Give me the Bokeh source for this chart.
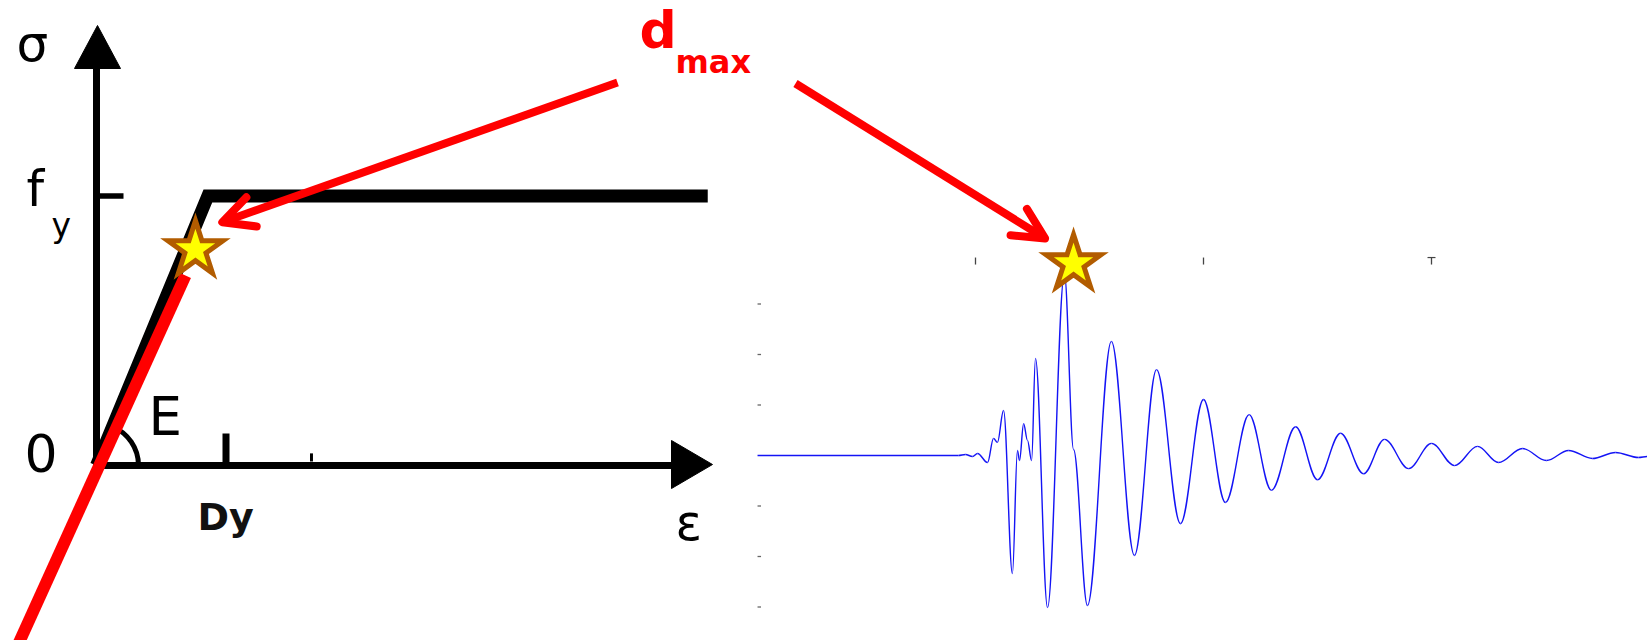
from bokeh.plotting import figure
from bokeh.models import Range1d, Label, Arrow, OpenHead, ColumnDataSource
from bokeh.embed import file_html
from bokeh.resources import INLINE

# ---------------- data: bilinear stress-strain diagram (normalised: Dy = 1, fy = 1)
curve_strain = [0.0, 0.86, 4.72]
curve_stress = [0.0, 1.0, 1.0]
elastic_strain = [-0.62, 0.687]          # red line through d_max
elastic_stress = [-0.68, 0.705]
dy_strain = 1.0
fy_stress = 1.0
dmax_strain = [0.764]
dmax_stress = [0.801]

# ---------------- data: displacement time history (turning points)
time_s = [0.44, 9.25, 9.56, 9.87, 10.09, 10.53, 10.79, 10.96, 11.23, 11.62, 11.84,
          11.93, 12.11, 12.28, 12.46, 12.63, 13.16, 13.90, 14.30, 14.91, 15.96,
          16.97, 17.94, 18.99, 20.00, 20.96, 22.00, 22.98, 24.04, 25.00, 26.01,
          27.02, 27.94, 29.00, 30.00, 31.01, 32.02, 32.94, 33.99, 35.04, 36.01,
          37.06, 38.07, 39.08, 39.47]
disp = [0.0, 0.0, 0.02, -0.02, 0.04, -0.14, 0.34, 0.26, 0.89, -2.34, 0.10,
        -0.10, 0.63, 0.30, -0.10, 1.92, -3.01, 3.60, 0.12, -2.97, 2.26,
        -1.98, 1.70, -1.35, 1.11, -0.93, 0.81, -0.69, 0.57, -0.48, 0.44,
        -0.36, 0.32, -0.26, 0.24, -0.20, 0.18, -0.14, 0.14, -0.10, 0.10,
        -0.06, 0.06, -0.04, -0.02]
peak_time = [14.30]
peak_disp = [3.80]
time_ticks = [10, 20, 30]
disp_ticks = [-3, -2, -1, 1, 2, 3]
disp_top = 3.92

# ---------------- layout (reference pixel frame)
W, H = 1647, 640
REF_H = 640
def Y(y):
    return REF_H - y

X_LO, X_HI = 0, W
Y_LO, Y_HI = 0, H

SS_X0, SS_SX = 96.0, 129.5     # strain axis: origin px, px per unit
SS_Y0, SS_SY = 465.0, 269.5    # stress axis
TH_X0, TH_SX = 747.0, 22.8     # time axis
TH_Y0, TH_SY = 455.0, 50.5     # displacement axis

p = figure(width=W, height=H, x_range=Range1d(X_LO, X_HI), y_range=Range1d(Y_LO, Y_HI),
           output_backend="svg", toolbar_location=None, min_border=0)
p.axis.visible = False
p.grid.visible = False
p.outline_line_color = None
p.background_fill_color = "white"
p.border_fill_color = "white"

p.extra_x_ranges = {
    "strain": Range1d((X_LO - SS_X0) / SS_SX, (X_HI - SS_X0) / SS_SX),
    "time": Range1d((X_LO - TH_X0) / TH_SX, (X_HI - TH_X0) / TH_SX),
}
p.extra_y_ranges = {
    "stress": Range1d((Y_LO - Y(SS_Y0)) / SS_SY, (Y_HI - Y(SS_Y0)) / SS_SY),
    "disp": Range1d((Y_LO - Y(TH_Y0)) / TH_SY, (Y_HI - Y(TH_Y0)) / TH_SY),
}
SS = dict(x_range_name="strain", y_range_name="stress")
TH = dict(x_range_name="time", y_range_name="disp")

# ---------------- left diagram: axes
p.segment(x0=[0, -0.02], y0=[-0.013, 0], x1=[0, 4.46], y1=[1.48, 0],
          line_color="black", line_width=7, **SS)
# arrow heads of the axes
p.patches(xs=[[97, 120, 74], [712, 671, 671]],
          ys=[[Y(25), Y(68), Y(68)], [Y(464), Y(440), Y(488)]],
          fill_color="black", line_color="black", line_width=1)
# fy tick and Dy tick
p.segment(x0=[0], y0=[fy_stress], x1=[27 / SS_SX], y1=[fy_stress],
          line_color="black", line_width=5.5, **SS)
p.segment(x0=[dy_strain], y0=[0], x1=[dy_strain], y1=[32 / SS_SY],
          line_color="black", line_width=7, **SS)
p.segment(x0=[1.66], y0=[0.015], x1=[1.66], y1=[0.045],
          line_color="black", line_width=3, **SS)
# stiffness arc E
p.arc(x=[SS_X0], y=[Y(SS_Y0)], radius=42, radius_units="screen",
      start_angle=0, end_angle=1.19, line_color="black", line_width=5)

# curve
p.line(curve_strain, curve_stress, line_color="black", line_width=13,
       line_join="miter", line_cap="butt", **SS)
# red line through d_max
p.line(elastic_strain, elastic_stress, line_color="#ff0000", line_width=12,
       line_cap="butt", **SS)

# ---------------- right diagram: ticks and trace
tick_len_t = 3.5 / TH_SX
p.segment(x0=[time_s[0]] * len(disp_ticks), y0=disp_ticks,
          x1=[time_s[0] + tick_len_t] * len(disp_ticks), y1=disp_ticks,
          line_color="#666666", line_width=1.3, **TH)
p.segment(x0=time_ticks, y0=[disp_top] * 3, x1=time_ticks, y1=[disp_top - 7 / TH_SY] * 3,
          line_color="#444444", line_width=1.3, **TH)
p.segment(x0=[time_ticks[-1] - 4 / TH_SX], y0=[disp_top], x1=[time_ticks[-1] + 4 / TH_SX],
          y1=[disp_top], line_color="#444444", line_width=1.2, **TH)

k = 0.36
t0, t1 = time_s[:-1], time_s[1:]
d0, d1 = disp[:-1], disp[1:]
wave = ColumnDataSource(dict(
    x0=t0, y0=d0, x1=t1, y1=d1,
    cx0=[a + k * (b - a) for a, b in zip(t0, t1)], cy0=d0,
    cx1=[b - k * (b - a) for a, b in zip(t0, t1)], cy1=d1,
))
p.bezier(x0="x0", y0="y0", x1="x1", y1="y1", cx0="cx0", cy0="cy0", cx1="cx1", cy1="cy1",
         source=wave, line_color="#1414f5", line_width=1.4, **TH)

# ---------------- stars at d_max
p.scatter(dmax_strain, dmax_stress, marker="star", size=58, fill_color="#ffff00",
          line_color="#b25c00", line_width=5, line_join="miter", **SS)
p.scatter(peak_time, peak_disp, marker="star", size=58, fill_color="#ffff00",
          line_color="#b25c00", line_width=5, line_join="miter", **TH)

# ---------------- red annotation arrows
for xs, ys, xe, ye in [(617, 82, 221.8, 221.7), (795, 83, 1044.6, 237.9)]:
    p.add_layout(Arrow(end=OpenHead(size=31, line_color="#ff0000", line_width=8,
                                    line_cap="round", line_join="round"),
                       x_start=xs, y_start=Y(ys), x_end=xe, y_end=Y(ye),
                       line_color="#ff0000", line_width=8, line_cap="butt"))

# ---------------- texts (y given as the reference baseline)
BASE_SHIFT = 0.39
def lab(x, y, text, size, font="DejaVu Sans", style="normal", color="black"):
    p.add_layout(Label(x=x, y=Y(y - BASE_SHIFT * size), text=text, text_font=font,
                       text_font_size=f"{size}px", text_font_style=style,
                       text_color=color, text_baseline="alphabetic", text_align="left"))

lab(16, 63, "σ", 50)
lab(26, 208, "f", 50)
lab(51, 238, "y", 33)
lab(24, 473, "0", 52)
lab(148, 437, "E", 53)
lab(197, 531, "Dy", 38, style="bold", color="#111111")
lab(675, 542, "ε", 49)
lab(639, 50, "d", 52, style="bold", color="#ff0000")
lab(675, 74, "max", 32, style="bold", color="#ff0000")

open("out.html", "w").write(file_html(p, INLINE))
